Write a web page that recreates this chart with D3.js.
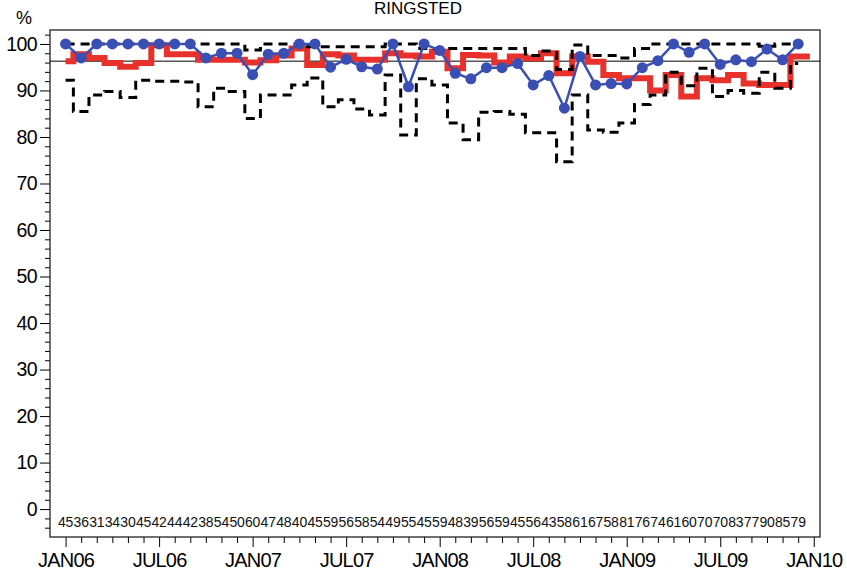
<!DOCTYPE html>
<html><head><meta charset="utf-8">
<script src="https://cdn.jsdelivr.net/npm/d3@7"></script>
<style>body{margin:0;background:#fff}svg{display:block}</style>
</head><body>
<svg id="chart" width="847" height="576"></svg>
<script>
// ---- data ----
const title = "RINGSTED";
const yUnit = "%";
const tickLabels = ["JAN06","JUL06","JAN07","JUL07","JAN08","JUL08","JAN09","JUL09","JAN10"];
const yTickValues = [0,10,20,30,40,50,60,70,80,90,100];
const referenceLevel = 96.3;
// monthly values, JAN06 .. DEC09 (48 months)
const unitRate = [100,97,100,100,100,100,100,100,100,97,98,98,
  93.4,97.8,98,100,100,95,96.7,95.1,94.6,100,90.8,100,
  98.6,93.7,92.5,94.9,94.9,95.8,91.2,93.2,86.2,97.3,91.2,91.5,
  91.4,94.9,96.4,100,98.2,100,95.6,96.6,96.2,98.9,96.6,100];
const averageRate = [96.3,97.8,97,95.9,95.1,95.9,99.7,97.8,97.8,96.6,96.6,96.6,
  96,96.5,97.5,99,95.5,97.8,97.5,96.6,96.6,98,97.5,97.3,
  98.3,94.8,97.6,97.5,96,97.3,96.9,98,93.7,97.3,96.2,93.3,
  92.6,92.6,90,93.3,88.7,92.6,92.2,93.3,91.5,91.2,91.2,97.3];
const upperLimit = [100,100,100,100,100,100,100,100,100,100,100,100,
  98.7,100,100,100,99.4,99.4,99.4,99.4,99.4,100,100,99,
  99,99,99,99,99,99,97.5,98.5,94.5,99.8,97.5,97.5,
  97,99,100,100,100,100,100,100,100,99.5,100,100];
const lowerLimit = [92.2,85.5,89,89.8,88.5,92.2,92,92,91.8,86.5,90.5,89.8,
  84,89,89,91.2,92.7,86.5,88,86,84.7,93.3,80.4,92.5,
  91.2,83,79.4,85.3,85.5,84.9,80.9,80.9,74.7,89,81.5,81,
  83,87,89,93.9,91,94.8,88.7,90,89.4,93.9,90.5,95.8];
const counts = [45,36,31,34,30,45,42,44,42,38,54,50,
  60,47,48,40,45,59,56,58,54,49,55,45,
  59,48,39,56,59,45,56,43,58,61,67,58,
  81,76,74,61,60,70,70,83,77,90,85,79];

// ---- layout ----
const svg = d3.select("#chart");
const FONT = "Liberation Sans, Arial, Helvetica, sans-serif";
const L = 50, R = 820, T = 30, B = 537;
const x = d3.scaleLinear().domain([-1, 48.4]).range([L, R]);
const y = d3.scaleLinear().domain([-6, 103]).range([B, T]);
const months = d3.range(unitRate.length);

// title + unit
svg.append("text").attr("x", 418).attr("y", 14).attr("text-anchor","middle")
  .attr("font-family",FONT).attr("font-size",17).text(title);
svg.append("text").attr("x", 24).attr("y", 24).attr("text-anchor","middle")
  .attr("font-family",FONT).attr("font-size",18).text(yUnit);

// y axis
const yAxis = d3.axisLeft(y).tickValues(yTickValues).tickSize(10).tickPadding(3).tickFormat(d3.format("d"));
const gy = svg.append("g").attr("transform",`translate(${L},0)`).call(yAxis);
gy.select(".domain").remove();
gy.selectAll("text").attr("font-family",FONT).attr("font-size",19.5)
  .attr("letter-spacing","-0.6px").attr("fill","#000");
gy.selectAll("line").attr("stroke","#000");
const yMinor = d3.range(-4, 103, 2).filter(v => v % 10 !== 0);
svg.append("g").attr("transform",`translate(${L},0)`)
  .call(d3.axisLeft(y).tickValues(yMinor).tickSize(5).tickFormat(""))
  .call(g => g.select(".domain").remove())
  .selectAll("line").attr("stroke","#000");

// x axis
const xMajor = d3.range(0, 49, 6);
const xAxis = d3.axisBottom(x).tickValues(xMajor).tickSize(10).tickPadding(6)
  .tickFormat((d,i) => tickLabels[i]);
const gx = svg.append("g").attr("transform",`translate(0,${B})`).call(xAxis);
gx.select(".domain").remove();
gx.selectAll("text").attr("font-family",FONT).attr("font-size",20)
  .attr("letter-spacing","-0.8px").attr("fill","#000");
gx.selectAll("line").attr("stroke","#000");
svg.append("g").attr("transform",`translate(0,${B})`)
  .call(d3.axisBottom(x).tickValues(d3.range(0,49).filter(m => m % 6 !== 0)).tickSize(6).tickFormat(""))
  .call(g => g.select(".domain").remove())
  .selectAll("line").attr("stroke","#000");

// frame
svg.append("rect").attr("x",L).attr("y",T).attr("width",R-L).attr("height",B-T)
  .attr("fill","none").attr("stroke","#222").attr("stroke-width",1.3);

// reference line
svg.append("line").attr("x1",L).attr("x2",R).attr("y1",y(referenceLevel)).attr("y2",y(referenceLevel))
  .attr("stroke","#000").attr("stroke-width",1);

// red step line (extends a bit past last month)
const redPts = months.map(i => [i, averageRate[i]]);
redPts.push([months.length - 1 + 0.75, averageRate[averageRate.length-1]]);
const stepLine = d3.line().x(d => x(d[0])).y(d => y(d[1])).curve(d3.curveStep);
svg.append("path").attr("d", stepLine(redPts)).attr("fill","none")
  .attr("stroke","#e8312b").attr("stroke-width",6).attr("stroke-linejoin","miter");

// dashed limits
[upperLimit, lowerLimit].forEach(arr => {
  svg.append("path").attr("d", stepLine(months.map(i => [i, arr[i]]))).attr("fill","none")
    .attr("stroke","#000").attr("stroke-width",3).attr("stroke-dasharray","9,6");
});

// blue line + dots
const blueLine = d3.line().x((d,i) => x(i)).y(d => y(d));
svg.append("path").attr("d", blueLine(unitRate)).attr("fill","none")
  .attr("stroke","#3a4fb3").attr("stroke-width",2.5);
svg.append("g").selectAll("circle").data(unitRate).join("circle")
  .attr("cx",(d,i) => x(i)).attr("cy", d => y(d)).attr("r",5.5).attr("fill","#3a4fb3");

// counts
svg.append("g").selectAll("text").data(counts).join("text")
  .attr("x",(d,i) => x(i)).attr("y", 527).attr("text-anchor","middle")
  .attr("font-family",FONT).attr("font-size",14)
  .attr("letter-spacing","-0.2px").attr("fill","#111").text(d => d);
</script>
</body></html>
